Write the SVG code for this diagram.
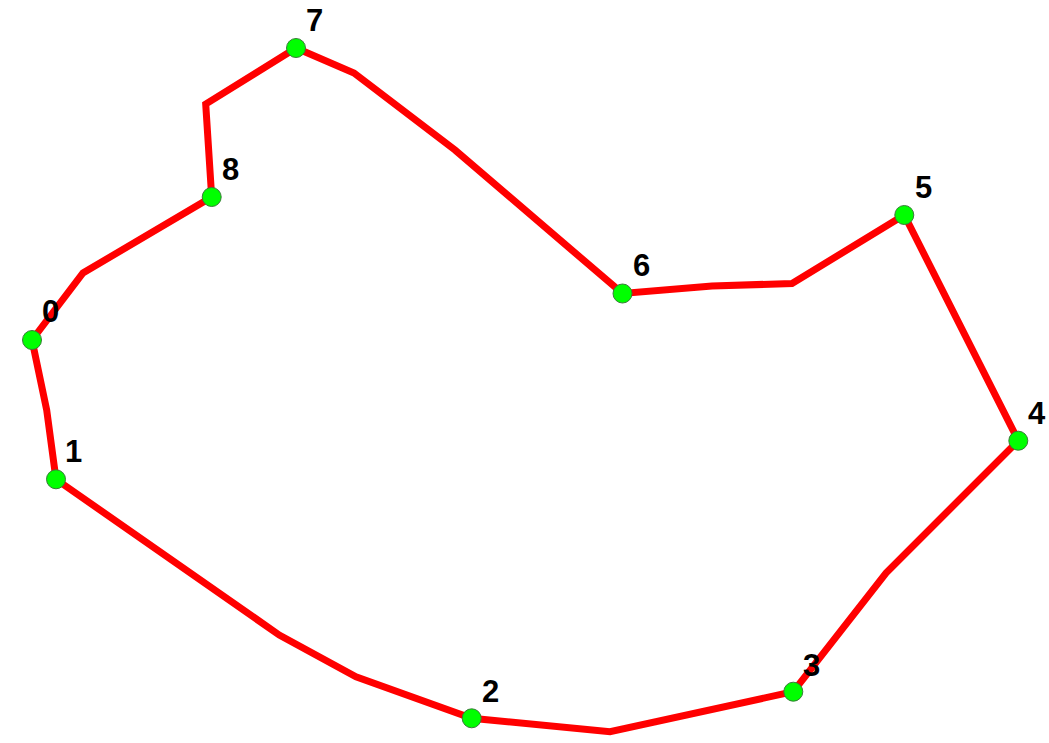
<svg xmlns="http://www.w3.org/2000/svg" width="1049" height="743" viewBox="0 0 1049 743">
<style>
.edge{fill:none;stroke:#ff0000;stroke-width:7;stroke-linejoin:miter;stroke-linecap:butt}
.node{fill:#00ff00;stroke:#3a7a3a;stroke-width:1}
.lbl{font-family:"Liberation Sans",Arial,sans-serif;font-weight:bold;font-size:31px;fill:#000}
</style>
<rect width="1049" height="743" fill="#fff"/>
<g id="connectors">
<polyline class="edge" points="32,340 83,273 211.7,197 205.7,104 296,48 354,73 455,150 622.5,293.5 712,286 792,283.5 904.3,215 1018.3,440.7 886,573 793.3,691.7 610,731.7 471.7,718.3 356,676.7 279.3,635 56,479.3 46.7,410 32,340"/>
</g>
<g id="node0"><circle class="node" cx="32" cy="340" r="9.5"/><text class="lbl" x="42" y="322">0</text></g>
<g id="node1"><circle class="node" cx="56" cy="479.3" r="9.5"/><text class="lbl" x="65" y="462">1</text></g>
<g id="node2"><circle class="node" cx="471.7" cy="718.3" r="9.5"/><text class="lbl" x="482" y="702">2</text></g>
<g id="node3"><circle class="node" cx="793.3" cy="691.7" r="9.5"/><text class="lbl" x="803" y="676">3</text></g>
<g id="node4"><circle class="node" cx="1018.3" cy="440.7" r="9.5"/><text class="lbl" x="1028" y="424">4</text></g>
<g id="node5"><circle class="node" cx="904.3" cy="215" r="9.5"/><text class="lbl" x="915" y="198">5</text></g>
<g id="node6"><circle class="node" cx="622.5" cy="293.5" r="9.5"/><text class="lbl" x="633" y="276">6</text></g>
<g id="node7"><circle class="node" cx="296" cy="48" r="9.5"/><text class="lbl" x="306" y="31">7</text></g>
<g id="node8"><circle class="node" cx="211.7" cy="197" r="9.5"/><text class="lbl" x="222" y="180">8</text></g>
</svg>
